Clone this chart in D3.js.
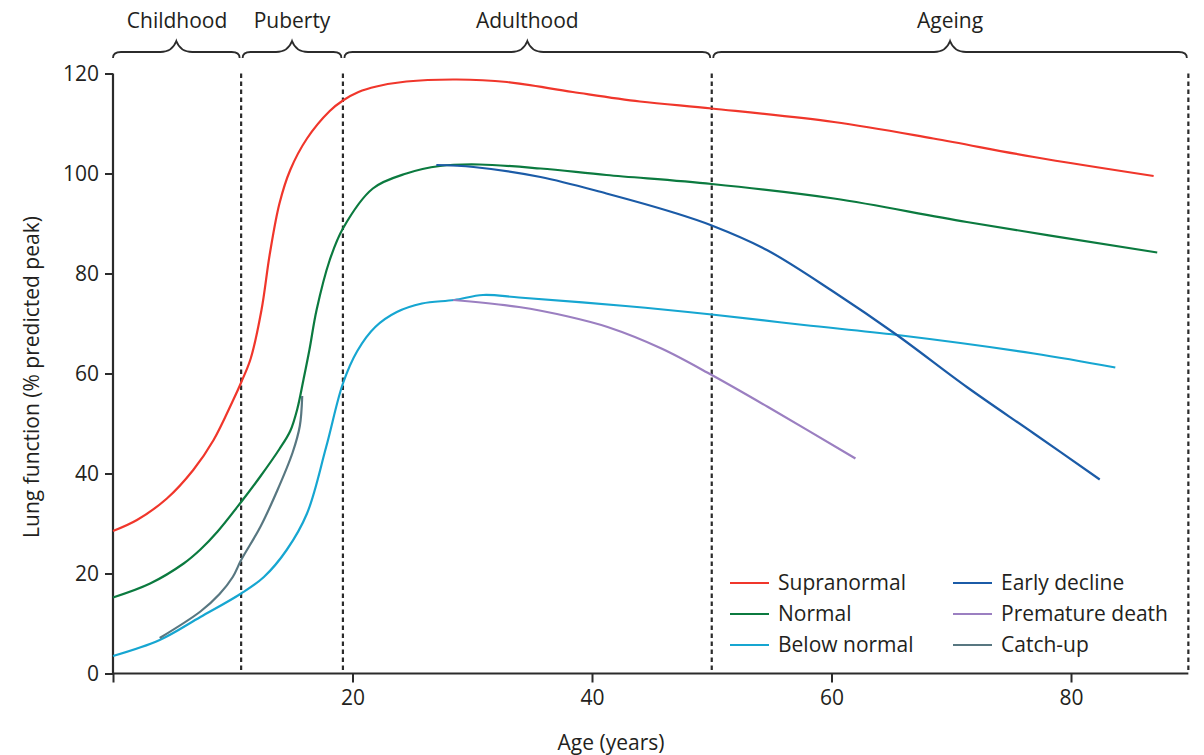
<!DOCTYPE html>
<html>
<head>
<meta charset="utf-8">
<script src="https://cdn.jsdelivr.net/npm/d3@7"></script>
<style>
  html, body { margin: 0; padding: 0; background: #fff; }
  svg { display: block; }
  text { font-family: "Open Sans", "Noto Sans", sans-serif; fill: #231f20; }
</style>
</head>
<body>
<svg id="chart" width="1204" height="755"></svg>
<script>
// Lung function trajectories across the life course (% of predicted peak)
const supranormalAge = [0, 2, 4.5, 6.7, 8.4, 10, 10.7, 11.5, 12.4, 13.1, 13.9, 14.8, 16.2, 18.1, 19.2, 20.5, 22, 24.5, 28.7, 32.9, 38.4, 44, 50, 60.2, 68.5, 76.9, 86.9];
const supranormalVal = [28.5, 30.7, 35, 40.7, 46.7, 54.5, 58.2, 63, 72.7, 84, 94, 100.7, 107, 112.5, 114.6, 116.3, 117.4, 118.4, 118.8, 118.3, 116.3, 114.4, 113, 110.3, 107, 103.3, 99.5];

const normalAge = [0, 3.1, 5.9, 7.3, 8.7, 10.7, 12.3, 13.9, 14.8, 15.4, 15.9, 16.4, 17, 18.1, 19.2, 21.7, 24.5, 27.3, 30.6, 35.7, 41.2, 50, 60.2, 71.3, 87.2];
const normalVal = [15.2, 18, 22, 24.8, 28.3, 34.3, 39.4, 44.9, 48.5, 53, 58.7, 64.7, 72.7, 82.7, 89, 97, 100, 101.5, 101.8, 101, 99.7, 97.9, 95, 90.3, 84.2];

const belowNormalAge = [0, 3.9, 7.3, 10.7, 12.6, 14.5, 16.2, 17.8, 19.2, 20.4, 21.9, 23.7, 25.8, 28.5, 30.9, 33.9, 42.8, 50, 57.7, 65.5, 76.9, 83.7];
const belowNormalVal = [3.5, 6.7, 11.3, 16, 19.3, 24.7, 32, 45.3, 58, 64.5, 69.3, 72.3, 74, 74.7, 75.7, 75.2, 73.5, 71.8, 69.7, 67.7, 64, 61.2];

const earlyDeclineAge = [27, 30.1, 35.7, 41.2, 46.8, 50, 54.6, 60.2, 65.4, 71.3, 76.9, 82.4];
const earlyDeclineVal = [101.7, 101.3, 99.3, 96, 92.2, 89.6, 84.7, 76.3, 67.8, 57.3, 48, 38.8];

const prematureDeathAge = [28.4, 33.9, 38, 41.3, 45.8, 50, 54.7, 62];
const prematureDeathVal = [74.7, 73.3, 71.4, 69.3, 65, 59.7, 53.3, 43];

const catchUpAge = [3.9, 7.3, 8.9, 10, 10.7, 12.3, 13.7, 15, 15.6, 15.8];
const catchUpVal = [7.1, 12.4, 15.9, 19.3, 22.7, 29.3, 36.5, 44.2, 49.5, 55.5];

// Life stages and their boundaries (years)
const stageNames = ["Childhood", "Puberty", "Adulthood", "Ageing"];
const stageBounds = [0, 10.7, 19.2, 50, 89.8];

const xTicks = [0, 20, 40, 60, 80];
const yTicks = [0, 20, 40, 60, 80, 100, 120];

const seriesNames = ["Supranormal", "Normal", "Below normal", "Early decline", "Premature death", "Catch-up"];
const seriesColors = ["#f0362b", "#0b7a3f", "#16a6d1", "#1b5ba7", "#9b7fc1", "#587781"];
const seriesAges = [supranormalAge, normalAge, belowNormalAge, earlyDeclineAge, prematureDeathAge, catchUpAge];
const seriesVals = [supranormalVal, normalVal, belowNormalVal, earlyDeclineVal, prematureDeathVal, catchUpVal];

const svg = d3.select("#chart");
const ink = "#2b2b2b";

const x = d3.scaleLinear().domain([0, 90]).range([113, 1190.75]);
const y = d3.scaleLinear().domain([0, 120]).range([673.5, 73.5]);

// Stage dividers
svg.append("g")
  .selectAll("line")
  .data(stageBounds.slice(1))
  .join("line")
  .attr("x1", d => x(d)).attr("x2", d => x(d))
  .attr("y1", y(120)).attr("y2", y(0))
  .attr("stroke", ink)
  .attr("stroke-width", 2.2)
  .attr("stroke-dasharray", "4.5,3.5");

// Braces over each stage
function bracePath(x1, x2, yb) {
  const cx = (x1 + x2) / 2;
  return `M${x1},${yb + 6} Q${x1},${yb} ${x1 + 8},${yb} L${cx - 16},${yb} ` +
         `Q${cx - 4},${yb} ${cx},${yb - 11} Q${cx + 4},${yb} ${cx + 16},${yb} ` +
         `L${x2 - 8},${yb} Q${x2},${yb} ${x2},${yb + 6}`;
}
const stages = stageNames.map((name, i) => ({ name, a: stageBounds[i], b: stageBounds[i + 1] }));
const braceG = svg.append("g");
braceG.selectAll("path")
  .data(stages)
  .join("path")
  .attr("d", d => bracePath(x(d.a) + (d.a === 0 ? 0 : 1.5), x(d.b) - 1.5, 52))
  .attr("fill", "none")
  .attr("stroke", ink)
  .attr("stroke-width", 1.8);
braceG.selectAll("text")
  .data(stages)
  .join("text")
  .attr("x", d => (x(d.a) + x(d.b)) / 2)
  .attr("y", 28)
  .attr("text-anchor", "middle")
  .attr("font-size", 21)
  .text(d => d.name);

// Axes
const yAxis = d3.axisLeft(y).tickValues(yTicks).tickSize(8).tickPadding(6);
const yg = svg.append("g").attr("transform", `translate(${x(0)},0)`).call(yAxis);
yg.select(".domain").attr("d", `M0,${y(120)}V${y(0)}`);

const xAxis = d3.axisBottom(x).tickValues(xTicks).tickSize(9).tickPadding(8)
  .tickFormat(d => d === 0 ? "" : d);
const xg = svg.append("g").attr("transform", `translate(0,${y(0)})`).call(xAxis);
xg.select(".domain").attr("d", `M${x(0)},0H${x(stageBounds[stageBounds.length - 1])}`);

[yg, xg].forEach(g => {
  g.selectAll(".domain").attr("stroke", ink).attr("stroke-width", 2.2);
  g.selectAll(".tick line").attr("stroke", ink).attr("stroke-width", 2);
  g.selectAll(".tick text")
    .attr("font-family", "'Open Sans', 'Noto Sans', sans-serif")
    .attr("font-size", 21)
    .attr("fill", "#231f20");
});

svg.append("text")
  .attr("x", 611).attr("y", 750)
  .attr("text-anchor", "middle")
  .attr("font-size", 21)
  .text("Age (years)");

svg.append("text")
  .attr("transform", "translate(39,377) rotate(-90)")
  .attr("text-anchor", "middle")
  .attr("font-size", 21)
  .text("Lung function (% predicted peak)");

// Trajectories
const line = d3.line()
  .x(d => x(d[0]))
  .y(d => y(d[1]))
  .curve(d3.curveCatmullRom.alpha(0.5));

const drawOrder = [0, 1, 2, 4, 3, 5];
svg.append("g")
  .selectAll("path")
  .data(drawOrder)
  .join("path")
  .attr("d", i => line(seriesAges[i].map((a, k) => [a, seriesVals[i][k]])))
  .attr("fill", "none")
  .attr("stroke", i => seriesColors[i])
  .attr("stroke-width", 2.2)
  .attr("stroke-linecap", "butt");

// Legend (two columns of three)
const legend = svg.append("g");
seriesNames.forEach((name, i) => {
  const col = Math.floor(i / 3), row = i % 3;
  const lx = 730 + col * 223, ly = 583 + row * 31;
  legend.append("line")
    .attr("x1", lx).attr("x2", lx + 39)
    .attr("y1", ly).attr("y2", ly)
    .attr("stroke", seriesColors[i])
    .attr("stroke-width", 2.2);
  legend.append("text")
    .attr("x", lx + 48).attr("y", ly)
    .attr("dy", "0.35em")
    .attr("font-size", 21)
    .text(name);
});
</script>
</body>
</html>
